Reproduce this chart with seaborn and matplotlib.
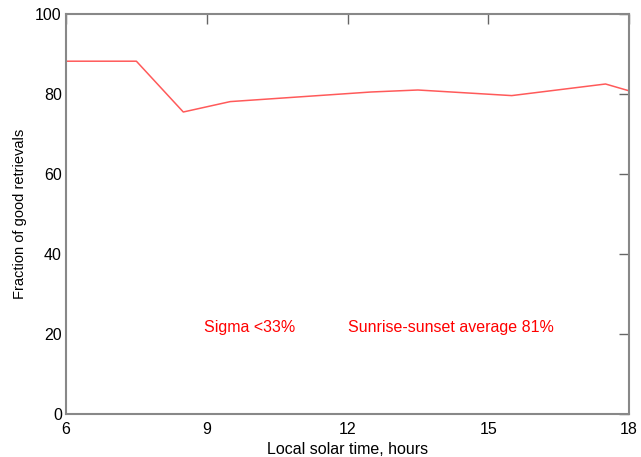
import pandas as pd
import matplotlib
matplotlib.use('Agg')
import matplotlib.pyplot as plt
import seaborn as sns

# local solar time (hours) and fraction of good retrievals (%)
hours = [6.0, 7.5, 8.5, 9.5, 12.5, 13.5, 15.5, 17.5, 18.0]
fraction = [88.2, 88.2, 75.5, 78.1, 80.5, 81.0, 79.6, 82.5, 80.8]
x_ticks = [6, 9, 12, 15, 18]
y_ticks = [0, 20, 40, 60, 80, 100]

sns.set_style('white')
plt.rcParams['font.family'] = ['Liberation Sans', 'DejaVu Sans']
plt.rcParams['text.color'] = 'black'
plt.rcParams['axes.labelcolor'] = 'black'
plt.rcParams['xtick.labelcolor'] = 'black'
plt.rcParams['ytick.labelcolor'] = 'black'

df = pd.DataFrame({'hour': hours, 'fraction': fraction})

fig = plt.figure(figsize=(6.41, 4.57), dpi=100)
ax = fig.add_axes([66 / 641, 43 / 457, 563 / 641, 400 / 457])
sns.lineplot(data=df, x='hour', y='fraction', color='#ff5a5a', linewidth=1.1, ax=ax)

ax.set_xlim(6, 18)
ax.set_ylim(0, 100)
ax.set_xticks(x_ticks)
ax.set_yticks(y_ticks)
ax.set_xlabel('Local solar time, hours', fontsize=11.5, labelpad=3)
ax.set_ylabel('Fraction of good retrievals', fontsize=10.5, labelpad=6)
ax.tick_params(direction='in', length=7, width=1, color='#666666',
               top=True, right=True, labelsize=11.5)
ax.tick_params(axis='y', pad=3)
ax.tick_params(axis='x', pad=6)
for sp in ax.spines.values():
    sp.set_color('#888888')
    sp.set_linewidth(1.5)

ax.text(8.95, 21.7, 'Sigma <33%', color='red', fontsize=11.5, va='center')
ax.text(12.0, 21.7, 'Sunrise-sunset average 81%', color='red', fontsize=11.5, va='center')

fig.savefig('out.png', dpi=100)
